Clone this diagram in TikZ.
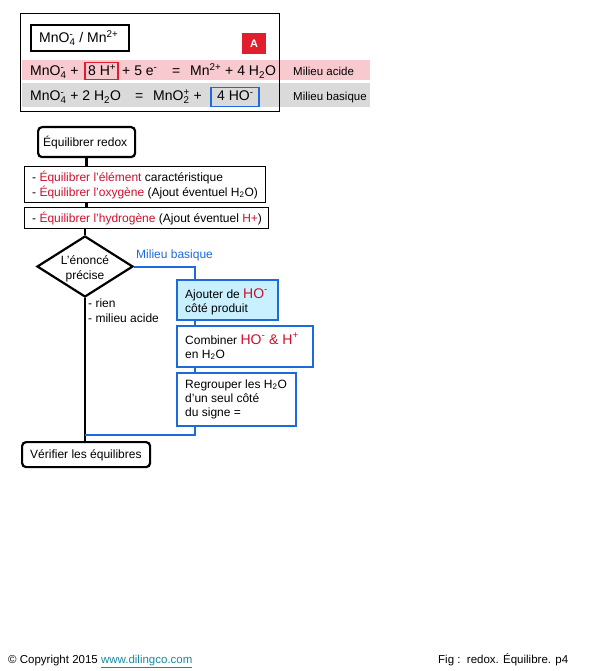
\documentclass[tikz,border=0pt]{standalone}
\usepackage{fontspec}
\setmainfont{Liberation Sans}
\usetikzlibrary{shapes.geometric}
\definecolor{redt}{RGB}{205,15,45}
\definecolor{redb}{RGB}{225,30,45}
\definecolor{pinkband}{RGB}{248,202,207}
\definecolor{grayband}{RGB}{218,218,218}
\definecolor{blueline}{RGB}{30,105,220}
\definecolor{cyanfill}{RGB}{200,240,255}
\definecolor{linkcol}{RGB}{20,140,160}
\newcommand\mysbsp[2]{\begingroup\setbox0\hbox{\textsubscript{#1}}\setbox2\hbox{\textsuperscript{#2}}%
  \ifdim\wd0>\wd2 \rlap{\box2}\box0 \else\rlap{\box0}\box2 \fi\endgroup}
\begin{document}
\begin{tikzpicture}[x=1pt,y=-1pt,
  txt/.style={inner sep=0pt, anchor=base west, font=\fontsize{12}{14}\selectfont},
  eqt/.style={inner sep=0pt, anchor=base west, font=\fontsize{14}{16}\selectfont},
  lbl/.style={inner sep=0pt, anchor=base west, font=\fontsize{11.5}{14}\selectfont},
  foot/.style={inner sep=0pt, anchor=base west, font=\fontsize{11.5}{13}\selectfont},
  thinbox/.style={draw=black, line width=1pt, inner sep=0pt, anchor=north west},
  roundbox/.style={draw=black, line width=2.2pt, rounded corners=4pt, inner sep=0pt, anchor=north west},
  bluebox/.style={draw=blueline, line width=2pt, inner sep=0pt, anchor=north west},
  blk/.style={line width=2.5pt, black},
  blu/.style={line width=2pt, blueline}]
\useasboundingbox (0,0) rectangle (595,671);

% ---- top panel ----
\node[draw=black, line width=0.8pt, inner sep=0pt, anchor=north west, minimum width=259pt, minimum height=98pt] (frame) at (20,13) {};
\fill[pinkband] (22,60) rectangle (370,80);
\fill[grayband] (22,83) rectangle (370,107);
\draw[line width=0.8pt] (frame.north east) -- (frame.south east);
\node[draw=black, line width=2pt, inner sep=0pt, anchor=north west, minimum width=98pt, minimum height=26pt] (title) at (30,24) {};
\node[eqt] (titlet) at (39,43) {MnO\mysbsp{4}{-} / Mn\textsuperscript{2+}};
\node[fill=redb, inner sep=0pt, anchor=north west, minimum width=24pt, minimum height=21pt, text=white, font=\fontsize{11}{13}\selectfont\bfseries] (A) at (242,33) {A};

\node[eqt] (r1a) at (30,76) {MnO\mysbsp{4}{-} +};
\node[draw=redb, line width=1.5pt, inner sep=0pt, anchor=north west, minimum width=33pt, minimum height=17pt] (b8) at (84,62) {};
\node[eqt] (r1b) at (88,76) {8 H\textsuperscript{+}};
\node[eqt] (r1c) at (122,76) {+ 5 e\textsuperscript{-}};
\node[eqt] (r1d) at (172,76) {=};
\node[eqt] (r1e) at (190,76) {Mn\textsuperscript{2+} + 4 H\textsubscript{2}O};
\node[lbl] (acide) at (293,76) {Milieu acide};

\node[eqt] (r2a) at (30,101) {MnO\mysbsp{4}{-} + 2 H\textsubscript{2}O};
\node[eqt] (r2b) at (135,101) {=};
\node[eqt] (r2c) at (153,101) {MnO\mysbsp{2}{+} +};
\node[draw=blueline, line width=1.5pt, inner sep=0pt, anchor=north west, minimum width=48pt, minimum height=19pt] (b4) at (210,87) {};
\node[eqt] (r2d) at (217,101) {4 HO\textsuperscript{-}};
\node[lbl] (basique) at (293,101) {Milieu basique};

% ---- flowchart ----
\node[roundbox, minimum width=97pt, minimum height=30pt] (redox) at (37,126) {};
\node[txt] at (43,147) {Équilibrer redox};

\node[thinbox, minimum width=241pt, minimum height=36pt] (b1) at (24,166) {};
\node[txt] at (32,181) {- \textcolor{redt}{Équilibrer l'élément} caractéristique};
\node[txt] at (32,196) {- \textcolor{redt}{Équilibrer l'oxygène} (Ajout éventuel H\textsubscript{2}O)};

\node[thinbox, minimum width=244pt, minimum height=21pt] (b2) at (24,207) {};
\node[txt] at (32,222) {- \textcolor{redt}{Équilibrer l'hydrogène} (Ajout éventuel \textcolor{redt}{H+})};

\node[draw=black, line width=2.2pt, shape=diamond, inner sep=0pt, minimum width=96pt, minimum height=61pt] (dia) at (85,266.5) {};
\node[txt, anchor=base] at (85,264) {L'énoncé};
\node[txt, anchor=base] at (85,279) {précise};
\node[txt] at (88,307) {- rien};
\node[txt] at (88,322) {- milieu acide};
\node[txt, text=blueline] at (136,258) {Milieu basique};

\node[bluebox, fill=cyanfill, minimum width=101pt, minimum height=40pt] (aj) at (176,279) {};
\node[txt] at (185,298) {Ajouter de \textcolor{redt}{\fontsize{14}{16}\selectfont HO\textsuperscript{-}}};
\node[txt] at (185,312) {côté produit};

\node[bluebox, fill=white, minimum width=136pt, minimum height=41pt] (comb) at (176,325) {};
\node[txt] at (185,344) {Combiner \textcolor{redt}{\fontsize{14}{16}\selectfont HO\textsuperscript{-} \& H\textsuperscript{+}}};
\node[txt] at (185,358) {en H\textsubscript{2}O};

\node[bluebox, fill=white, minimum width=119pt, minimum height=53pt] (reg) at (176,372) {};
\node[txt] at (185,388) {Regrouper les H\textsubscript{2}O};
\node[txt] at (185,402) {d'un seul côté};
\node[txt] at (185,416) {du signe =};

\node[roundbox, minimum width=128pt, minimum height=25pt] (verif) at (21,441) {};
\node[txt] at (30,458) {Vérifier les équilibres};

\coordinate (join) at (85,435);

% connectors
\draw[blk] (redox.south) -- (redox.south |- b1.north);
\draw[blk] (b1.south -| redox.south) -- (b2.north -| redox.south);
\draw[blk] (b2.south -| dia.north) -- (dia.north);
\draw[blk] (dia.south) -- (verif.north -| dia.south);
\draw[blu] (dia.east) -| ([xshift=19pt]aj.north west);
\draw[blu] ([xshift=19pt]aj.south west) -- ([xshift=19pt]comb.north west);
\draw[blu] ([xshift=19pt]comb.south west) -- ([xshift=19pt]reg.north west);
\draw[blu] ([xshift=19pt]reg.south west) |- (join);

% footer
\node[foot] (copy) at (8,663) {© Copyright 2015 \textcolor{linkcol}{\underline{www.dilingco.com}}};
\node[foot] (fig) at (438,663) {Fig :\ \ redox. Équilibre. p4};
\end{tikzpicture}
\end{document}
